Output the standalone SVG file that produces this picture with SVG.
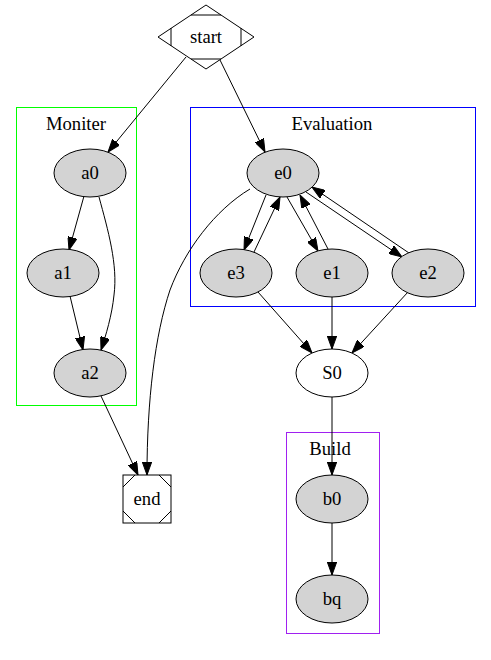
<svg xmlns="http://www.w3.org/2000/svg" width="491" height="660" viewBox="0 0 491 660">
<style>
text{font-family:"Liberation Serif","Times New Roman",serif;font-size:18.67px;fill:#000;text-anchor:middle}
.n{fill:#d3d3d3;stroke:#000;stroke-width:1}
.w{fill:#fff;stroke:#000;stroke-width:1}
.e{fill:none;stroke:#000;stroke-width:1;marker-end:url(#ah)}
.l{fill:none;stroke:#000;stroke-width:1}
.c{fill:none;stroke-width:1}
</style>
<defs>
<marker id="ah" viewBox="0 0 13 9.4" refX="13" refY="4.7" markerWidth="13" markerHeight="9.4" markerUnits="userSpaceOnUse" orient="auto">
<path d="M0,0 L13,4.7 L0,9.4 z" fill="#000" stroke="#000" stroke-width="1"/>
</marker>
</defs>
<rect width="491" height="660" fill="#fff"/>
<g id="cluster_Moniter">
<rect class="c" x="16.5" y="107.5" width="120" height="298" stroke="#00ff00"/>
<text x="76" y="130">Moniter</text>
</g>
<g id="cluster_Evaluation">
<rect class="c" x="190.5" y="107.5" width="285" height="199" stroke="#0000ff"/>
<text x="332" y="130">Evaluation</text>
</g>
<g id="cluster_Build">
<rect class="c" x="286.5" y="432.5" width="93" height="201" stroke="#a020f0"/>
<text x="330" y="455">Build</text>
</g>
<g id="edges">
<path class="e" d="M186,57 L108,152"/>
<path class="e" d="M220,60 L265,152"/>
<path class="e" d="M84,196 L69,250"/>
<path class="e" d="M70,296 L83,350"/>
<path class="e" d="M99,197 C108,230 118,265 114,295 C112,315 106,335 101,350"/>
<path class="e" d="M101,396 L138,475"/>
<path class="e" d="M250,189 C215,210 185,250 170,290 C155,335 147,400 147,475"/>
<path class="e" d="M266,195 L244,250"/>
<path class="e" d="M254,252 L280,197"/>
<path class="e" d="M287,197 L318,251"/>
<path class="e" d="M328,249 L300,195"/>
<path class="e" d="M306,192 L402,257"/>
<path class="e" d="M409,253 L312,187"/>
<path class="e" d="M258,292 L312,353"/>
<path class="e" d="M332,297 L332,349"/>
<path class="e" d="M408,292 L352,353"/>
<path class="e" d="M332,397 L332,475"/>
<path class="e" d="M332,523 L332,575"/>
</g>
<g id="start">
<polygon class="w" points="206,5 254,37 206,69 158,37"/>
<path class="l" d="M191,15 L221,15 M171,28 L171,46 M241,28 L241,46 M191,59 L221,59"/>
<text x="206" y="43">start</text>
</g>
<g id="end">
<rect class="w" x="123" y="475" width="48" height="48"/>
<path class="l" d="M123,487 L135,475 M159,475 L171,487 M171,511 L159,523 M135,523 L123,511"/>
<text x="147" y="505">end</text>
</g>
<g id="a0"><ellipse class="n" cx="90" cy="173" rx="36" ry="24"/><text x="90" y="179">a0</text></g>
<g id="a1"><ellipse class="n" cx="63" cy="273" rx="36" ry="24"/><text x="63" y="279">a1</text></g>
<g id="a2"><ellipse class="n" cx="90" cy="373" rx="36" ry="24"/><text x="90" y="379">a2</text></g>
<g id="e0"><ellipse class="n" cx="283" cy="173" rx="36" ry="24"/><text x="283" y="179">e0</text></g>
<g id="e3"><ellipse class="n" cx="236" cy="273" rx="36" ry="24"/><text x="236" y="279">e3</text></g>
<g id="e1"><ellipse class="n" cx="332" cy="273" rx="36" ry="24"/><text x="332" y="279">e1</text></g>
<g id="e2"><ellipse class="n" cx="428" cy="273" rx="36" ry="24"/><text x="428" y="279">e2</text></g>
<g id="S0"><ellipse class="w" cx="332" cy="373" rx="36" ry="24"/><text x="332" y="379">S0</text></g>
<g id="b0"><ellipse class="n" cx="332" cy="499" rx="36" ry="24"/><text x="332" y="505">b0</text></g>
<g id="bq"><ellipse class="n" cx="332" cy="599" rx="36" ry="24"/><text x="332" y="605">bq</text></g>
</svg>
